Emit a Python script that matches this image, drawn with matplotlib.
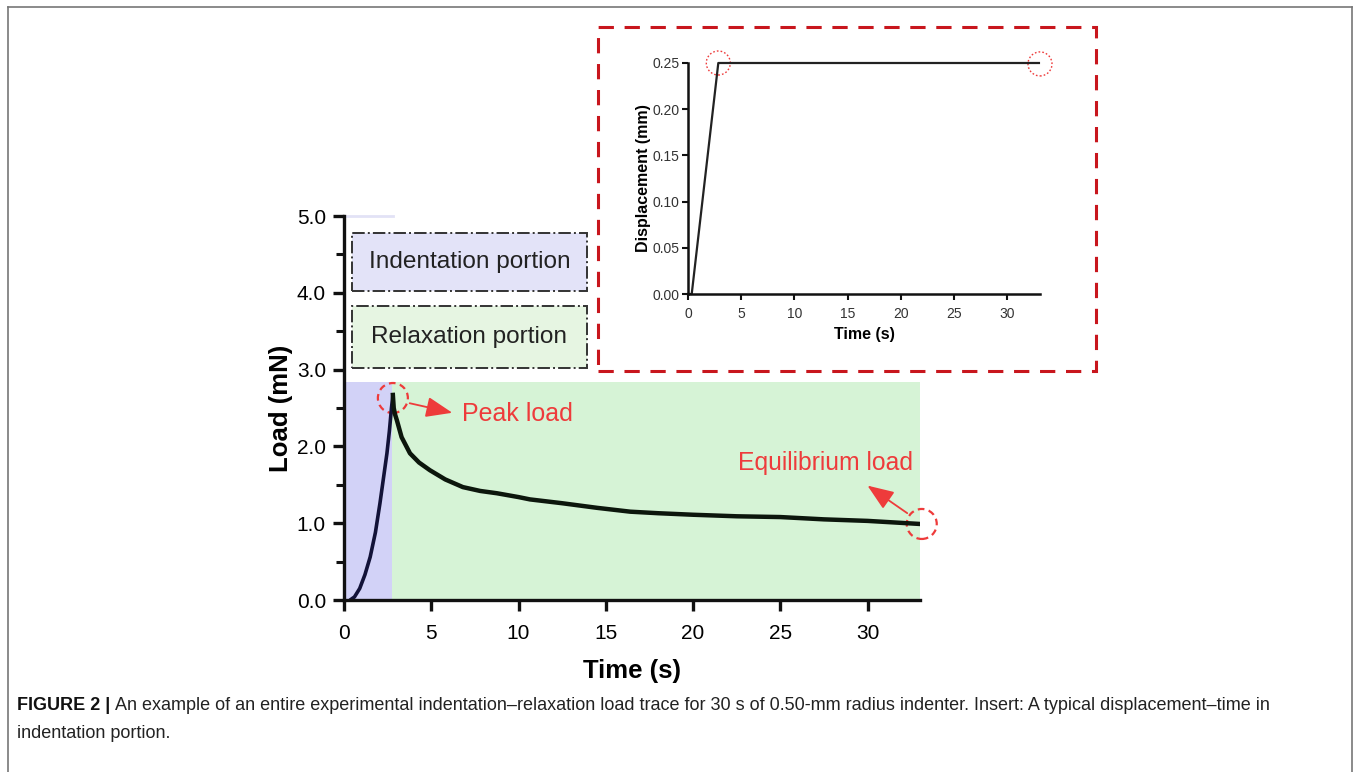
#!/usr/bin/env python3
"""Indentation-relaxation load trace with displacement insert."""

import matplotlib

matplotlib.use("Agg")
import matplotlib.pyplot as plt
from matplotlib.patches import Circle, Rectangle
from matplotlib.transforms import ScaledTranslation
from matplotlib.ticker import MultipleLocator

# --- data ---
rise_time = [0.35, 0.6, 0.9, 1.2, 1.5, 1.8, 2.06, 2.3, 2.46, 2.6, 2.72, 2.8]
rise_load = [0.0, 0.04, 0.15, 0.33, 0.56, 0.88, 1.26, 1.65, 1.91, 2.2, 2.5, 2.67]

relax_time = [2.8, 2.85, 2.92, 3.03, 3.3, 3.78, 4.3, 4.92, 5.8, 6.81, 7.8, 8.76,
              10.0, 10.65, 12.5, 14.5, 16.4, 18.0, 20.0, 22.5, 25.0, 27.5, 30.0, 33.0]
relax_load = [2.67, 2.5, 2.42, 2.34, 2.12, 1.91, 1.79, 1.69, 1.57, 1.47, 1.42, 1.39,
              1.34, 1.31, 1.26, 1.2, 1.15, 1.13, 1.11, 1.09, 1.08, 1.05, 1.03, 0.99]

indent_end = 2.75      # s, end of indentation portion
trace_end = 33.0       # s
shade_top = 2.84       # mN

peak = (2.8, 2.63)
equilibrium = (33.1, 0.99)

disp_time = [0.0, 0.35, 2.85, 33.0]
disp_mm = [0.0, 0.0, 0.25, 0.25]

x_ticks = [0, 5, 10, 15, 20, 25, 30]
y_ticks = [0.0, 1.0, 2.0, 3.0, 4.0, 5.0]
inset_y_ticks = [0.00, 0.05, 0.10, 0.15, 0.20, 0.25]

RED = "#ee3b3b"
DARK_RED = "#c8161d"
PURPLE = "#d2d2f7"
GREEN = "#d6f3d6"
W, H = 1356, 772
ARROW = dict(arrowstyle="-|>,head_length=0.9,head_width=0.35", color=RED, lw=1.3,
             mutation_scale=18)


def fx(px):
    return px / W


def fy(py):
    return 1 - py / H


def circle_at(ax, fig, xy, r_px, **kw):
    tr = fig.dpi_scale_trans + ScaledTranslation(xy[0], xy[1], ax.transData)
    c = Circle((0, 0), r_px / fig.dpi, transform=tr, fill=False, clip_on=False, **kw)
    ax.add_patch(c)


def main():
    plt.rcParams["font.family"] = ["Liberation Sans", "DejaVu Sans"]
    fig = plt.figure(figsize=(13.56, 7.72), dpi=100)

    # outer frame (open at the bottom)
    for xs, ys in [([8, 8], [772, 7]), ([8, 1352], [7, 7]), ([1352, 1352], [7, 772])]:
        fig.add_artist(plt.Line2D([fx(v) for v in xs], [fy(v) for v in ys],
                                  color="#777777", lw=1.2))

    # ---------------- main plot ----------------
    ax = fig.add_axes([fx(344), fy(600), fx(920 - 344), (600 - 216) / H])
    ax.set_xlim(0, 33.0)
    ax.set_ylim(0, 5.0)

    ax.add_patch(Rectangle((0, 0), indent_end, shade_top, facecolor=PURPLE, edgecolor="none", zorder=0))
    ax.add_patch(Rectangle((indent_end, 0), trace_end - indent_end, shade_top,
                           facecolor=GREEN, edgecolor="none", zorder=0))
    ax.plot([0, 2.8], [5.0, 5.0], color="#e2e2f6", lw=2, clip_on=False)

    ax.plot(rise_time, rise_load, color="#121238", lw=2.6, solid_capstyle="round")
    ax.plot(relax_time, relax_load, color="#0c160c", lw=3.2, solid_joinstyle="round")

    # legend-like boxes
    ax.add_patch(Rectangle((0.46, 4.02), 13.44, 0.76, facecolor="#e3e3f8", edgecolor="#333333",
                           lw=1.4, linestyle="-.", zorder=1))
    ax.add_patch(Rectangle((0.46, 3.02), 13.44, 0.81, facecolor="#e6f5e2", edgecolor="#333333",
                           lw=1.4, linestyle="-.", zorder=1))
    ax.text(7.18, 4.40, "Indentation portion", ha="center", va="center", fontsize=17.6, color="#222222")
    ax.text(7.18, 3.42, "Relaxation portion", ha="center", va="center", fontsize=17.6, color="#222222")

    # annotations
    circle_at(ax, fig, peak, 15, edgecolor=RED, lw=1.6, linestyle=(0, (3, 2)))
    ax.annotate("", xy=(6.36, 2.43), xytext=(3.61, 2.57), arrowprops=ARROW)
    ax.text(6.76, 2.42, "Peak load", ha="left", va="center", fontsize=18, color=RED)

    circle_at(ax, fig, equilibrium, 15, edgecolor=RED, lw=1.6, linestyle=(0, (3, 2)))
    ax.annotate("", xy=(29.86, 1.51), xytext=(32.4, 1.11), arrowprops=ARROW)
    ax.text(27.6, 1.79, "Equilibrium load", ha="center", va="center", fontsize=17.8, color=RED)

    for s in ("top", "right"):
        ax.spines[s].set_visible(False)
    for s in ("left", "bottom"):
        ax.spines[s].set_linewidth(2.4)
        ax.spines[s].set_color("#111111")
    ax.set_xticks(x_ticks)
    ax.set_yticks(y_ticks)
    ax.set_yticklabels([f"{v:.1f}" for v in y_ticks])
    ax.yaxis.set_minor_locator(MultipleLocator(0.5))
    ax.tick_params(axis="both", which="major", direction="out", length=8, width=2.4,
                   labelsize=15, color="#111111", pad=5)
    ax.tick_params(axis="x", which="major", pad=9)
    ax.tick_params(axis="y", which="minor", direction="out", length=6, width=2.2, color="#111111")
    ax.set_xlabel("Time (s)", fontsize=18.5, fontweight="bold", labelpad=12)
    ax.set_ylabel("Load (mN)", fontsize=18.5, fontweight="bold", labelpad=3)
    ax.patch.set_alpha(0)

    # ---------------- insert ----------------
    fig.add_artist(Rectangle((fx(598), fy(371)), fx(1096 - 598), (371 - 27) / H,
                             transform=fig.transFigure, fill=False, edgecolor=DARK_RED,
                             lw=2.2, linestyle=(0, (5, 3.5))))

    ins = fig.add_axes([fx(688), fy(294), fx(1040 - 688), (294 - 63) / H])
    ins.set_xlim(0, 33.1)
    ins.set_ylim(0, 0.25)
    ins.plot(disp_time, disp_mm, color="#222222", lw=1.6, clip_on=False)
    circle_at(ins, fig, (2.85, 0.25), 12, edgecolor=RED, lw=1.0, linestyle=(0, (1.2, 1.5)))
    circle_at(ins, fig, (33.1, 0.249), 12, edgecolor=RED, lw=1.0, linestyle=(0, (1.2, 1.5)))

    for s in ("top", "right"):
        ins.spines[s].set_visible(False)
    for s in ("left", "bottom"):
        ins.spines[s].set_linewidth(1.8)
        ins.spines[s].set_color("#111111")
    ins.set_xticks(x_ticks)
    ins.set_yticks(inset_y_ticks)
    ins.set_yticklabels([f"{v:.2f}" for v in inset_y_ticks])
    ins.tick_params(direction="out", length=4, width=1.5, labelsize=10, labelcolor="#333333",
                    color="#111111", pad=2)
    ins.tick_params(axis="x", pad=5)
    ins.set_xlabel("Time (s)", fontsize=11.5, fontweight="bold", labelpad=5)
    ins.set_ylabel("Displacement (mm)", fontsize=11.5, fontweight="bold", labelpad=1)

    # ---------------- caption ----------------
    fig.canvas.draw()
    r = fig.canvas.get_renderer()
    t1 = fig.text(fx(17), fy(706), "FIGURE 2 |", fontsize=13, fontweight="bold",
                  va="center", ha="left", color="#111111")
    bb = t1.get_window_extent(renderer=r)
    fig.text((bb.x1 + 5) / W, fy(706),
             "An example of an entire experimental indentation\u2013relaxation load trace for 30 s of "
             "0.50-mm radius indenter. Insert: A typical displacement\u2013time in",
             fontsize=13, va="center", ha="left", color="#222222")
    fig.text(fx(17), fy(733), "indentation portion.", fontsize=13, va="center", ha="left",
             color="#222222")

    fig.savefig("out.png", dpi=100)
    plt.close(fig)


if __name__ == "__main__":
    main()
